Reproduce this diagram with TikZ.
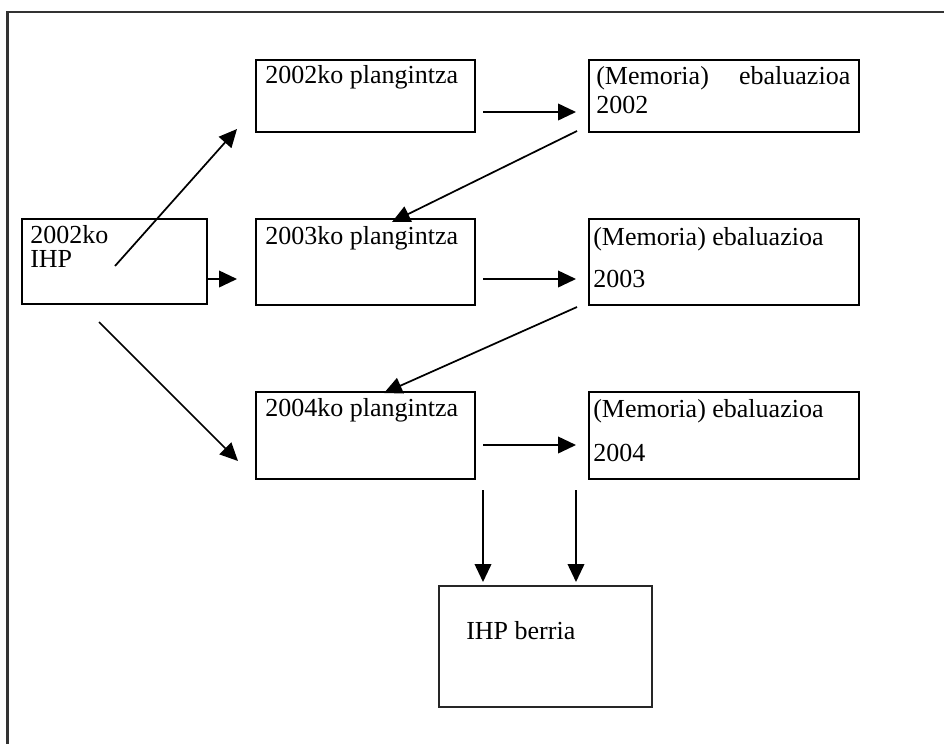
\documentclass[tikz,border=0pt]{standalone}
\usepackage{fontspec}
\setmainfont{Liberation Serif}
\usetikzlibrary{arrows.meta,fit}
\begin{document}
\begin{tikzpicture}[x=0.75pt,y=-0.75pt,
  box/.style={draw=black,line width=1.9pt,inner sep=0pt,fit={#1}},
  softbox/.style={draw=black!85,line width=1.5pt,inner sep=0pt,fit={#1}},
  txt/.style={anchor=base west,inner sep=0pt,font=\fontsize{19.5pt}{23pt}\selectfont},
  arr/.style={line width=1.3pt,-{Triangle[length=13.5pt,width=12.5pt]}}]
\useasboundingbox (0,0) rectangle (944,743);
% outer frame (only its top and left sides lie on the page)
\draw[black!80,line width=1.8pt] (7.5,800) |- (1000,12);

% boxes
\node[box={(22,219) (207,304)}] (ihp) {};
\node[box={(256,60) (475,132)}] (p1) {};
\node[box={(256,219) (475,305)}] (p2) {};
\node[box={(256,392) (475,479)}] (p3) {};
\node[box={(589,60) (859,132)}] (m1) {};
\node[box={(589,219) (859,305)}] (m2) {};
\node[box={(589,392) (859,479)}] (m3) {};
\node[softbox={(439,586) (652,707)}] (new) {};

% texts
\node[txt] (ihpa) at (30,243) {2002ko};
\node[txt] (ihpb) at (30,267) {IHP};
\node[txt] (p1t) at (265,83) {2002ko plangintza};
\node[txt] (p2t) at (265,244) {2003ko plangintza};
\node[txt] (p3t) at (265,416) {2004ko plangintza};
\node[txt] (m1a) at (596,84) {\makebox[254\dimexpr0.75pt\relax][s]{(Memoria)\hfill ebaluazioa}};
\node[txt] (m1b) at (596,113) {2002};
\node[txt] (m2a) at (593,245) {(Memoria) ebaluazioa};
\node[txt] (m2b) at (593,287) {2003};
\node[txt] (m3a) at (593,417) {(Memoria) ebaluazioa};
\node[txt] (m3b) at (593,461) {2004};
\node[txt] (newt) at (466,639) {IHP berria};

% connector end points
\coordinate (a1s) at (115,266);  \coordinate (a1e) at (237,129);
\coordinate (a2s) at (207,279);  \coordinate (a2e) at (237,279);
\coordinate (a3s) at (99,322);   \coordinate (a3e) at (238,461);
\coordinate (b1s) at (483,112);  \coordinate (b1e) at (576,112);
\coordinate (b2s) at (483,279);  \coordinate (b2e) at (576,279);
\coordinate (b3s) at (483,445);  \coordinate (b3e) at (576,445);
\coordinate (c1s) at (577,131);  \coordinate (c1e) at (392,222);
\coordinate (c2s) at (577,307);  \coordinate (c2e) at (384,393);
\coordinate (d1s) at (483,490);  \coordinate (d1e) at (483,582);
\coordinate (d2s) at (576,490);  \coordinate (d2e) at (576,582);

% connectors
\draw[arr] (a1s) -- (a1e);
\draw[arr] (a2s) -- (a2e);
\draw[arr] (a3s) -- (a3e);
\draw[arr] (b1s) -- (b1e);
\draw[arr] (b2s) -- (b2e);
\draw[arr] (b3s) -- (b3e);
\draw[arr] (c1s) -- (c1e);
\draw[arr] (c2s) -- (c2e);
\draw[arr] (d1s) -- (d1e);
\draw[arr] (d2s) -- (d2e);
\end{tikzpicture}
\end{document}
